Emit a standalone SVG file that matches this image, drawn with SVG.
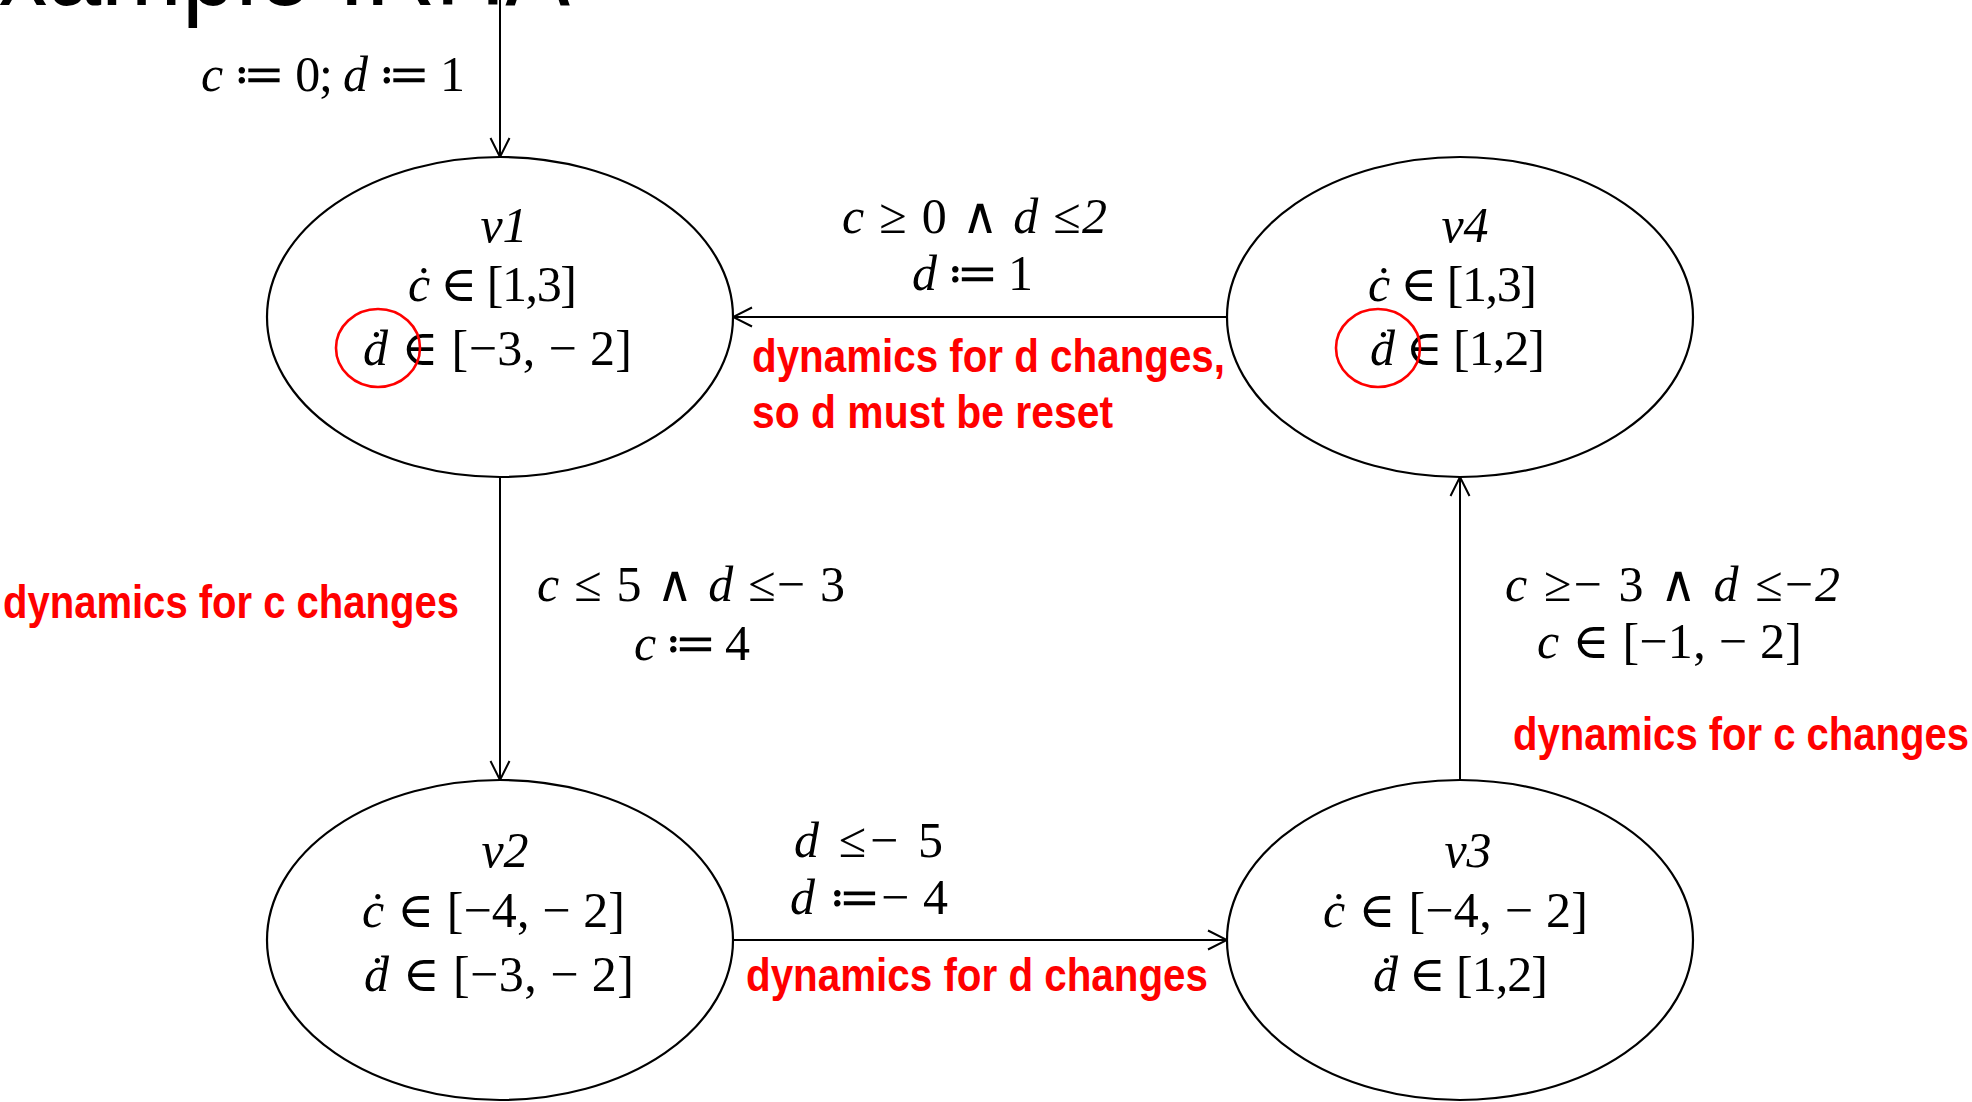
<svg xmlns="http://www.w3.org/2000/svg" width="1972" height="1102" viewBox="0 0 1972 1102">
<style>
.node{fill:#fff;stroke:#000;stroke-width:2.2}
.edge{fill:none;stroke:#000;stroke-width:2}
.mark{fill:none;stroke:#f00;stroke-width:2.6}
.m{font-family:"Liberation Serif","DejaVu Serif",serif;font-size:50px;fill:#000}
.i{font-style:italic}
.note{font-family:"Liberation Sans","DejaVu Sans",sans-serif;font-weight:bold;font-size:46px;fill:#f00}
.title{font-family:"Liberation Sans","DejaVu Sans",sans-serif;font-size:112px;fill:#000}
</style>
<defs>
<marker id="arr" viewBox="0 0 22 22" refX="20" refY="11" markerWidth="22" markerHeight="22" markerUnits="userSpaceOnUse" orient="auto">
<path d="M1,1.5 L20,11 L1,20.5" fill="none" stroke="#000" stroke-width="2"/>
</marker>
</defs>
<rect width="1972" height="1102" fill="#fff"/>
<text class="title" x="-66" y="5" textLength="636" lengthAdjust="spacingAndGlyphs">Example IRHA</text>

<g id="connectors">
<line id="e-init" class="edge" x1="500" y1="0" x2="500" y2="157" marker-end="url(#arr)"/>
<line id="e-v4-v1" class="edge" x1="1227" y1="317" x2="733" y2="317" marker-end="url(#arr)"/>
<line id="e-v1-v2" class="edge" x1="500" y1="477" x2="500" y2="780" marker-end="url(#arr)"/>
<line id="e-v2-v3" class="edge" x1="733" y1="940" x2="1227" y2="940" marker-end="url(#arr)"/>
<line id="e-v3-v4" class="edge" x1="1460" y1="780" x2="1460" y2="477" marker-end="url(#arr)"/>
</g>

<g id="v1">
<ellipse class="node" cx="500" cy="317" rx="233" ry="160"/>
<text class="m i" x="504" y="242" text-anchor="middle">v1</text>
<text class="m" x="408" y="301" textLength="169"><tspan class="i">ċ</tspan> ∈ [1,3]</text>
<text class="m" x="363" y="365" textLength="269"><tspan class="i">ḋ</tspan> ∈ [−3, − 2]</text>
<ellipse class="mark" cx="378" cy="348" rx="42" ry="39"/>
</g>

<g id="v4">
<ellipse class="node" cx="1460" cy="317" rx="233" ry="160"/>
<text class="m i" x="1465" y="242" text-anchor="middle">v4</text>
<text class="m" x="1368" y="301" textLength="169"><tspan class="i">ċ</tspan> ∈ [1,3]</text>
<text class="m" x="1370" y="365" textLength="175"><tspan class="i">ḋ</tspan> ∈ [1,2]</text>
<ellipse class="mark" cx="1378" cy="348" rx="42" ry="39"/>
</g>

<g id="v2">
<ellipse class="node" cx="500" cy="940" rx="233" ry="160"/>
<text class="m i" x="505" y="867" text-anchor="middle">v2</text>
<text class="m" x="362" y="927" textLength="263"><tspan class="i">ċ</tspan> ∈ [−4, − 2]</text>
<text class="m" x="364" y="991" textLength="270"><tspan class="i">ḋ</tspan> ∈ [−3, − 2]</text>
</g>

<g id="v3">
<ellipse class="node" cx="1460" cy="940" rx="233" ry="160"/>
<text class="m i" x="1468" y="867" text-anchor="middle">v3</text>
<text class="m" x="1323" y="927" textLength="265"><tspan class="i">ċ</tspan> ∈ [−4, − 2]</text>
<text class="m" x="1373" y="991" textLength="175"><tspan class="i">ḋ</tspan> ∈ [1,2]</text>
</g>

<g id="labels">
<text class="m" x="201" y="91" textLength="264"><tspan class="i">c</tspan> ≔ 0; <tspan class="i">d</tspan> ≔ 1</text>
<text class="m" x="842" y="233" textLength="265"><tspan class="i">c</tspan> ≥ 0 ∧ <tspan class="i">d</tspan> ≤<tspan class="i">2</tspan></text>
<text class="m" x="912" y="290" textLength="121"><tspan class="i">d</tspan> ≔ 1</text>
<text class="m" x="537" y="601" textLength="308"><tspan class="i">c</tspan> ≤ 5 ∧ <tspan class="i">d</tspan> ≤− 3</text>
<text class="m" x="634" y="660" textLength="116"><tspan class="i">c</tspan> ≔ 4</text>
<text class="m" x="1505" y="601" textLength="335"><tspan class="i">c</tspan> ≥− 3 ∧ <tspan class="i">d</tspan> ≤−<tspan class="i">2</tspan></text>
<text class="m" x="1537" y="658" textLength="265"><tspan class="i">c</tspan> ∈ [−1, − 2]</text>
<text class="m" x="794" y="857" textLength="149"><tspan class="i">d</tspan> ≤− 5</text>
<text class="m" x="790" y="914" textLength="158"><tspan class="i">d</tspan> ≔− 4</text>
</g>

<g id="notes">
<text class="note" x="752" y="372" textLength="473" lengthAdjust="spacingAndGlyphs">dynamics for d changes,</text>
<text class="note" x="752" y="428" textLength="361" lengthAdjust="spacingAndGlyphs">so d must be reset</text>
<text class="note" x="3" y="618" textLength="456" lengthAdjust="spacingAndGlyphs">dynamics for c changes</text>
<text class="note" x="1513" y="750" textLength="456" lengthAdjust="spacingAndGlyphs">dynamics for c changes</text>
<text class="note" x="746" y="991" textLength="462" lengthAdjust="spacingAndGlyphs">dynamics for d changes</text>
</g>
</svg>
